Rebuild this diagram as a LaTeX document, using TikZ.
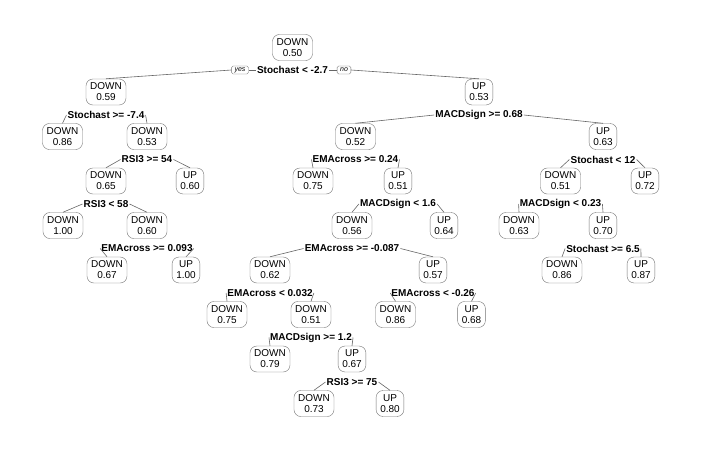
\documentclass[tikz,border=0pt]{standalone}
\usepackage{fontspec}
\setmainfont{Liberation Sans}
\begin{document}
\begin{tikzpicture}[x=1pt,y=-1pt,
  leafbox/.style={draw=black!55, rounded corners=7pt, fill=white, align=center,
    font=\fontsize{10}{11}\selectfont, inner xsep=4.2pt, inner ysep=4pt},
  splitlbl/.style={font=\fontsize{10}{11}\selectfont\bfseries, inner sep=1pt},
  branch/.style={draw=black!60, line width=0.6pt},
  yn/.style={draw=black!55, fill=white, rounded corners=1.5pt,
    font=\fontsize{7}{7}\selectfont\itshape, inner xsep=3pt, inner ysep=1pt, minimum height=8pt}
]
\useasboundingbox (0,0) rectangle (703,450);
% levels: box y = 47.5 + 44.5k ; label y = 70.5 + 44.5k
% level 0
\node[leafbox] (r) at (292.5,47.5) {DOWN\\0.50};
\node[splitlbl] (rl) at (292.5,70) {Stochast < -2.7};
\node[yn] (yes) at (240,70) {yes};
\node[yn] (no) at (344,70) {no};
% level 1
\node[leafbox] (a1) at (106,92) {DOWN\\0.59};
\node[leafbox] (a2) at (479,92) {UP\\0.53};
\node[splitlbl] (a1l) at (106,115) {Stochast >= -7.4};
\node[splitlbl] (a2l) at (479,115) {MACDsign >= 0.68};
% level 2
\node[leafbox] (b1) at (62.5,136.5) {DOWN\\0.86};
\node[leafbox] (b2) at (147,136.5) {DOWN\\0.53};
\node[leafbox] (b3) at (355.5,136.5) {DOWN\\0.52};
\node[leafbox] (b4) at (603,136.5) {UP\\0.63};
\node[splitlbl] (b2l) at (147,159.5) {RSI3 >= 54};
\node[splitlbl] (b3l) at (355.5,159.5) {EMAcross >= 0.24};
\node[splitlbl] (b4l) at (603,159.5) {Stochast < 12};
% level 3
\node[leafbox] (c1) at (106,181) {DOWN\\0.65};
\node[leafbox] (c2) at (190,181) {UP\\0.60};
\node[leafbox] (c3) at (313,181) {DOWN\\0.75};
\node[leafbox] (c4) at (398,181) {UP\\0.51};
\node[leafbox] (c5) at (560.5,181) {DOWN\\0.51};
\node[leafbox] (c6) at (645,181) {UP\\0.72};
\node[splitlbl] (c1l) at (106,204) {RSI3 < 58};
\node[splitlbl] (c4l) at (398,204) {MACDsign < 1.6};
\node[splitlbl] (c5l) at (560.5,204) {MACDsign < 0.23};
% level 4
\node[leafbox] (d1) at (63,225.5) {DOWN\\1.00};
\node[leafbox] (d2) at (147,225.5) {DOWN\\0.60};
\node[leafbox] (d3) at (352,225.5) {DOWN\\0.56};
\node[leafbox] (d4) at (444,225.5) {UP\\0.64};
\node[leafbox] (d5) at (519,225.5) {DOWN\\0.63};
\node[leafbox] (d6) at (603,225.5) {UP\\0.70};
\node[splitlbl] (d2l) at (147,248.5) {EMAcross >= 0.093};
\node[splitlbl] (d3l) at (352,248.5) {EMAcross >= -0.087};
\node[splitlbl] (d6l) at (603,248.5) {Stochast >= 6.5};
% level 5
\node[leafbox] (e1) at (107,270) {DOWN\\0.67};
\node[leafbox] (e2) at (186,270) {UP\\1.00};
\node[leafbox] (e3) at (270,270) {DOWN\\0.62};
\node[leafbox] (e4) at (433,270) {UP\\0.57};
\node[leafbox] (e5) at (562,270) {DOWN\\0.86};
\node[leafbox] (e6) at (641,270) {UP\\0.87};
\node[splitlbl] (e3l) at (270,293) {EMAcross < 0.032};
\node[splitlbl] (e4l) at (433,293) {EMAcross < -0.26};
% level 6
\node[leafbox] (f1) at (227,314.5) {DOWN\\0.75};
\node[leafbox] (f2) at (311,314.5) {DOWN\\0.51};
\node[leafbox] (f3) at (395.5,314.5) {DOWN\\0.86};
\node[leafbox] (f4) at (471.5,314.5) {UP\\0.68};
\node[splitlbl] (f2l) at (311,337.5) {MACDsign >= 1.2};
% level 7
\node[leafbox] (g1) at (270,359) {DOWN\\0.79};
\node[leafbox] (g2) at (352,359) {UP\\0.67};
\node[splitlbl] (g2l) at (352,382) {RSI3 >= 75};
% level 8
\node[leafbox] (h1) at (314,403.5) {DOWN\\0.73};
\node[leafbox] (h2) at (390,403.5) {UP\\0.80};
% branches
\draw[branch] (rl.west) -- (yes.east);
\draw[branch] (yes.west) -- (a1.north);
\draw[branch] (rl.east) -- (no.west);
\draw[branch] (no.east) -- (a2.north);
\foreach \p/\l/\r in {a1l/b1/b2, a2l/b3/b4, b2l/c1/c2, b3l/c3/c4, b4l/c5/c6,
  c1l/d1/d2, c4l/d3/d4, c5l/d5/d6, d2l/e1/e2, d3l/e3/e4, d6l/e5/e6,
  e3l/f1/f2, e4l/f3/f4, f2l/g1/g2, g2l/h1/h2}{
  \draw[branch] (\p.west) -- (\l.north);
  \draw[branch] (\p.east) -- (\r.north);
}
\end{tikzpicture}
\end{document}
